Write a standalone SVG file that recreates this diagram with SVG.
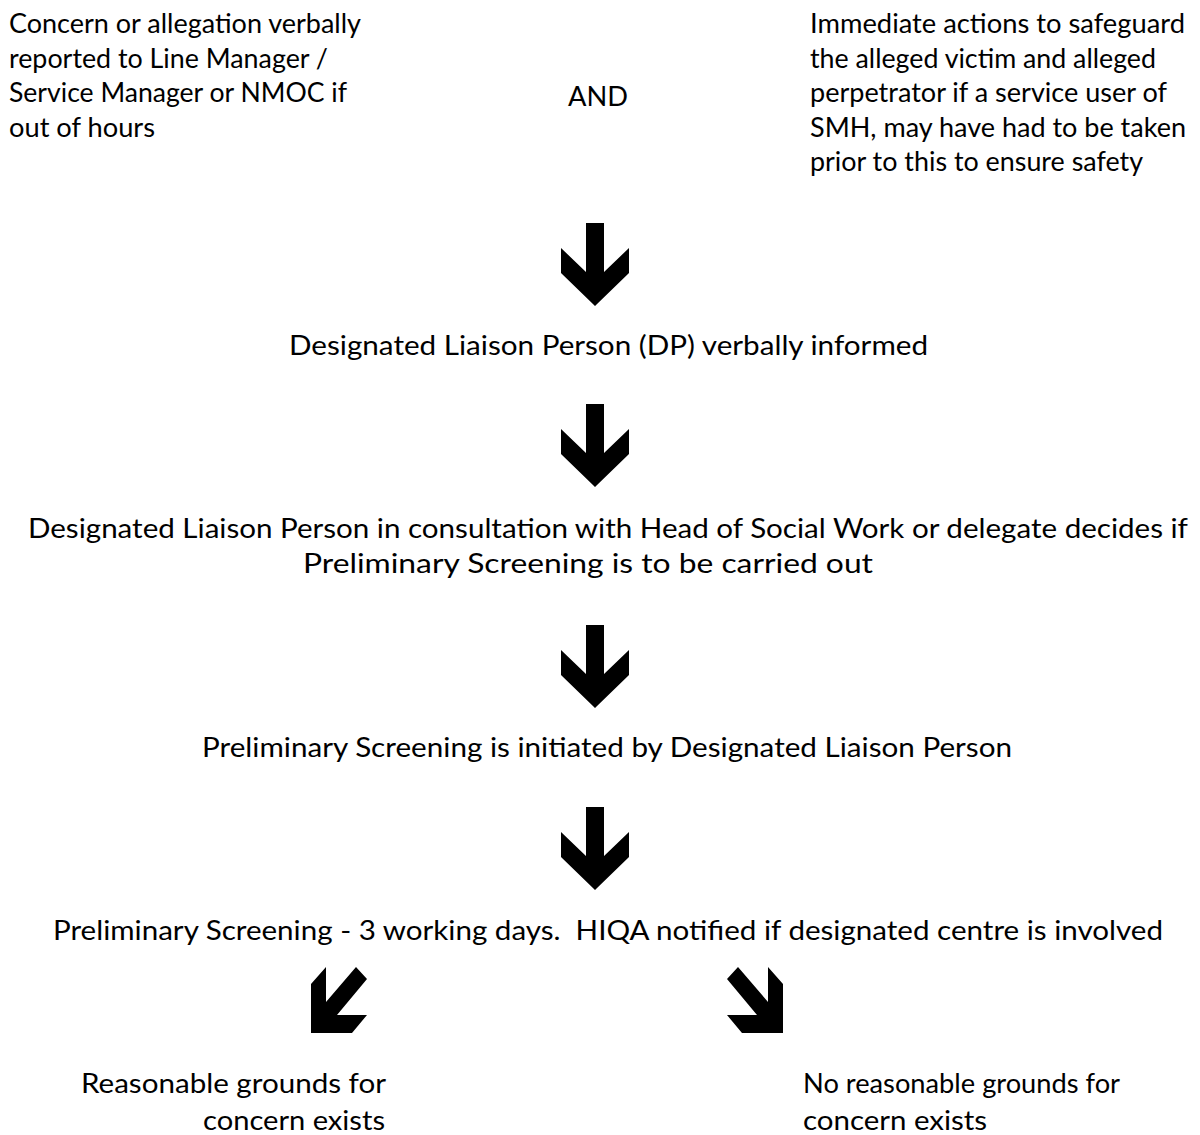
<svg xmlns="http://www.w3.org/2000/svg" xmlns:xlink="http://www.w3.org/1999/xlink" width="1200" height="1135" viewBox="0 0 1200 1135">
<style>
  text { font-family: Lato, "Liberation Sans", sans-serif; font-size: 26px; fill: #000; white-space: pre; }
  .arrow { fill: #000; stroke: none; }
</style>
<defs>
  <polygon id="down" class="arrow" points="586,0 604,0 604,49 629,25 629,50 595,83 561,50 561,25 586,49"/>
</defs>
<rect width="1200" height="1135" fill="#fff"/>

<g id="node-concern">
  <text x="9" y="33" textLength="352" lengthAdjust="spacingAndGlyphs">Concern or allegation verbally</text>
  <text x="9" y="68" textLength="319" lengthAdjust="spacingAndGlyphs">reported to Line Manager /</text>
  <text x="9" y="102" textLength="338" lengthAdjust="spacingAndGlyphs">Service Manager or NMOC if</text>
  <text x="9" y="137" textLength="146" lengthAdjust="spacingAndGlyphs">out of hours</text>
</g>

<g id="node-and">
  <text x="568" y="106" textLength="60" lengthAdjust="spacingAndGlyphs">AND</text>
</g>

<g id="node-immediate">
  <text x="810" y="33" textLength="375" lengthAdjust="spacingAndGlyphs">Immediate actions to safeguard</text>
  <text x="810" y="68" textLength="346" lengthAdjust="spacingAndGlyphs">the alleged victim and alleged</text>
  <text x="810" y="102" textLength="357" lengthAdjust="spacingAndGlyphs">perpetrator if a service user of</text>
  <text x="810" y="137" textLength="376" lengthAdjust="spacingAndGlyphs">SMH, may have had to be taken</text>
  <text x="810" y="171" textLength="333" lengthAdjust="spacingAndGlyphs">prior to this to ensure safety</text>
</g>

<g id="node-dp-informed">
  <text x="289" y="355" textLength="639" lengthAdjust="spacingAndGlyphs">Designated Liaison Person (DP) verbally informed</text>
</g>

<g id="node-consultation">
  <text x="28" y="538" textLength="1160" lengthAdjust="spacingAndGlyphs">Designated Liaison Person in consultation with Head of Social Work or delegate decides if</text>
  <text x="303" y="573" textLength="570" lengthAdjust="spacingAndGlyphs">Preliminary Screening is to be carried out</text>
</g>

<g id="node-initiated">
  <text x="202" y="757" textLength="810" lengthAdjust="spacingAndGlyphs">Preliminary Screening is initiated by Designated Liaison Person</text>
</g>

<g id="node-screening">
  <text x="53" y="940" textLength="1110" lengthAdjust="spacingAndGlyphs">Preliminary Screening - 3 working days.  HIQA notified if designated centre is involved</text>
</g>

<g id="node-reasonable">
  <text x="81" y="1093" textLength="305" lengthAdjust="spacingAndGlyphs">Reasonable grounds for</text>
  <text x="203" y="1130" textLength="182" lengthAdjust="spacingAndGlyphs">concern exists</text>
</g>

<g id="node-no-reasonable">
  <text x="803" y="1093" textLength="317" lengthAdjust="spacingAndGlyphs">No reasonable grounds for</text>
  <text x="803" y="1130" textLength="184" lengthAdjust="spacingAndGlyphs">concern exists</text>
</g>

<g id="connectors">
  <use xlink:href="#down" href="#down" y="223"/>
  <use xlink:href="#down" href="#down" y="404"/>
  <use xlink:href="#down" href="#down" y="625"/>
  <use xlink:href="#down" href="#down" y="807"/>
  <polygon class="arrow" points="311,984 326,967 326,1002 356,967 367,979 337,1015 367,1015 352,1033 311,1033"/>
  <polygon class="arrow" points="783,984 768,967 768,1002 738,967 727,979 757,1015 727,1015 742,1033 783,1033"/>
</g>
</svg>
